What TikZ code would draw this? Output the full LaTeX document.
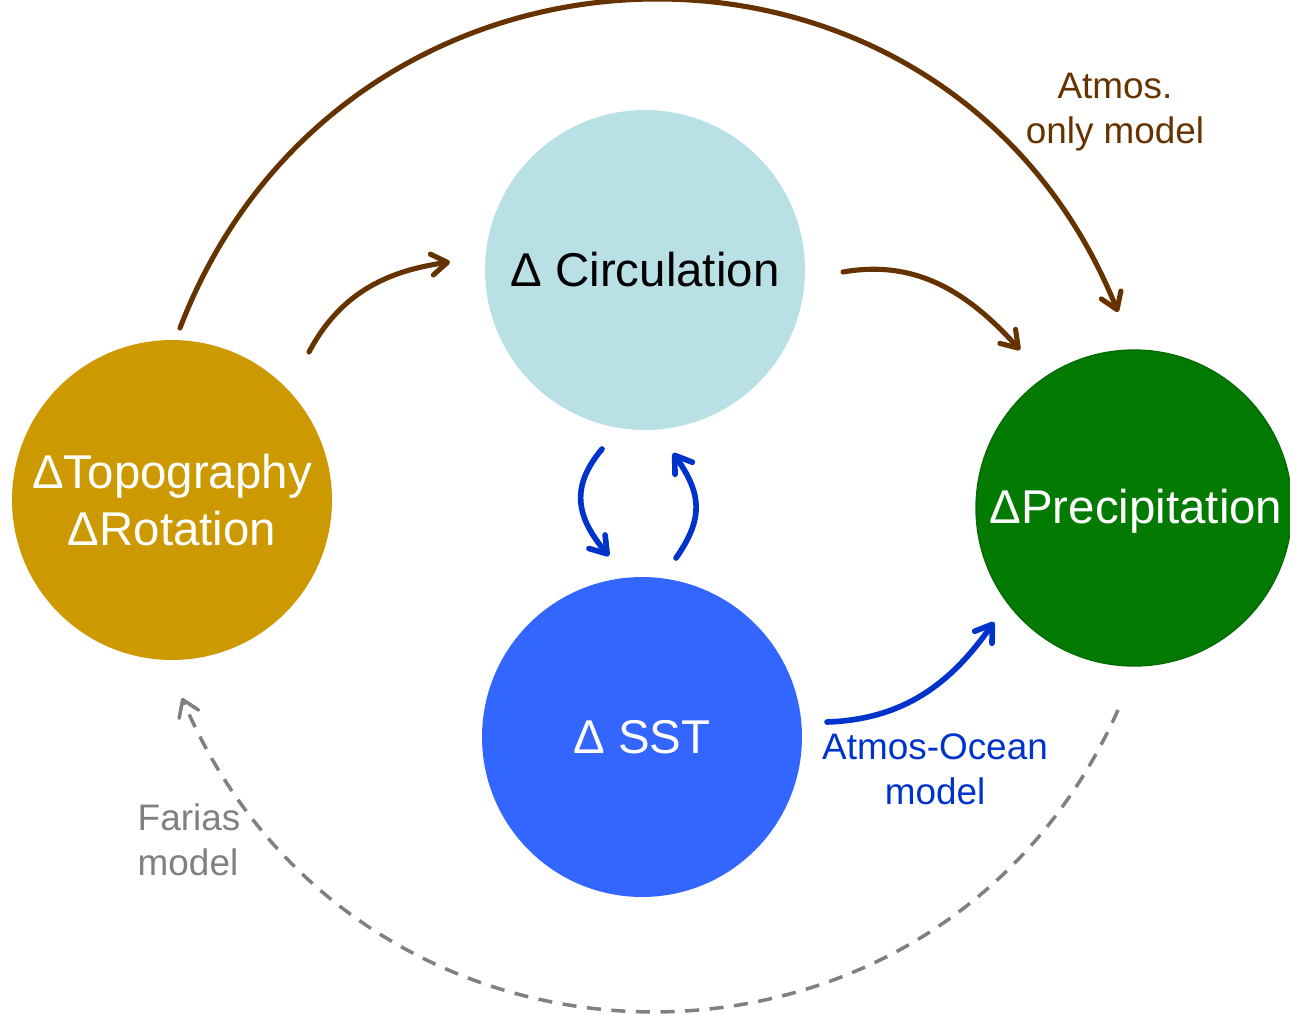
\documentclass[tikz,border=0pt]{standalone}
\usepackage{fontspec}
\setmainfont{Liberation Sans}
\usetikzlibrary{arrows.meta}
\definecolor{cgold}{HTML}{CC9900}
\definecolor{ccyan}{HTML}{B9E0E4}
\definecolor{cblue}{HTML}{3366FF}
\definecolor{cgreen}{HTML}{037B03}
\definecolor{cgreenb}{HTML}{056A05}
\definecolor{cbrown}{HTML}{663300}
\definecolor{carrowblue}{HTML}{0033CC}
\definecolor{cgray}{HTML}{808080}
\begin{document}
\begin{tikzpicture}[x=0.02cm,y=0.02cm,
  bigcircle/.style={circle,minimum size=6.4cm,inner sep=0pt,align=center,
    font=\fontsize{27}{32.5}\selectfont},
  tip/.style={-{Straight Barb[length=9pt,width=12pt,line cap=round,line join=round]}},
  brownarrow/.style={tip,draw=cbrown,line width=2.9pt,line cap=round},
  bluearrow/.style={tip,draw=carrowblue,line width=3.2pt,line cap=round},
  grayarrow/.style={tip,draw=cgray,line width=2pt,dash pattern=on 8pt off 6pt},
  lbl/.style={font=\fontsize{21}{25.5}\selectfont,align=center,inner sep=0pt}]
\useasboundingbox (0,0) rectangle (1290,-1018);

\node[bigcircle,fill=cgold,text=white] (topo) at (172,-500) {ΔTopography\\ΔRotation};
\node[bigcircle,fill=ccyan,text=black] (circ) at (645,-270) {Δ Circulation};
\node[bigcircle,fill=cblue,text=white] (sst) at (642,-737) {Δ SST};
\node[bigcircle,minimum size=6.32cm,fill=cgreen,draw=cgreenb,line width=0.8pt,text=white] (prec) at (1134,-508) {};
\node[font=\fontsize{27}{32.5}\selectfont,text=white,inner sep=0pt] (prectext) at (1136,-511) {ΔPrecipitation};

\coordinate (a1) at (180,-328);
\coordinate (a2) at (1118,-312);
\coordinate (b1) at (309,-352);
\coordinate (b2) at (450,-262);
\coordinate (c1) at (843,-272);
\coordinate (c2) at (1020,-350);
\coordinate (d1) at (602,-449);
\coordinate (d2) at (609,-556);
\coordinate (e1) at (676,-558);
\coordinate (e2) at (673,-453);
\coordinate (f1) at (827,-722);
\coordinate (f2) at (994,-622);
\coordinate (g1) at (1118,-710);
\coordinate (g2) at (182,-698);

\draw[brownarrow] (a1) to[out=69,in=112,looseness=1.25] (a2);
\draw[brownarrow] (b1) to[out=62,in=-172] (b2);
\draw[brownarrow] (c1) to[out=10,in=132] (c2);
\draw[bluearrow] (d1) to[out=-130,in=130,looseness=1.2] (d2);
\draw[bluearrow] (e1) to[out=55,in=-55,looseness=1.2] (e2);
\draw[bluearrow] (f1) to[out=2,in=-125] (f2);
\draw[grayarrow] (g1) to[out=-114,in=-67,looseness=1.22] (g2);

\node[lbl,text=cbrown] (lab1) at (1115,-112) {Atmos.\\only model};
\node[lbl,text=carrowblue] (lab2) at (935,-769) {Atmos-Ocean\\model};
\node[lbl,text=cgray,align=left] (lab3) at (189,-840) {Farias\\model};
\end{tikzpicture}
\end{document}
